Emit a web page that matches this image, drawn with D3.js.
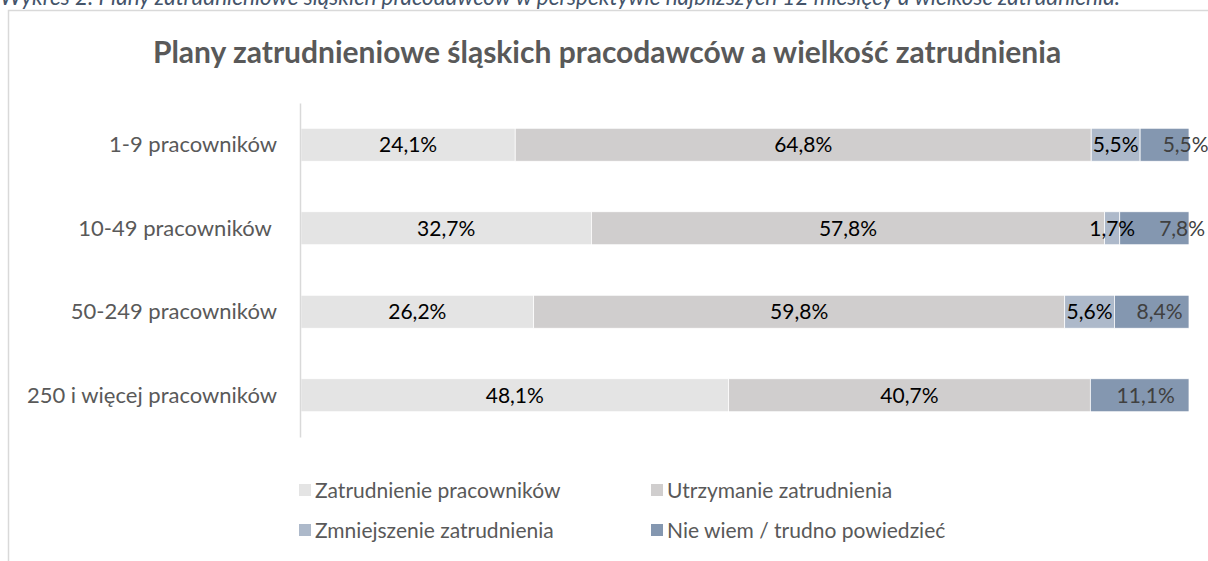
<!DOCTYPE html>
<html><head><meta charset="utf-8">
<script src="https://cdn.jsdelivr.net/npm/d3@7"></script>
<style>html,body{margin:0;padding:0;background:#fff;overflow:hidden}</style>
</head><body>
<svg id="c" width="1208" height="561"></svg>
<script>
const captionText = "Wykres 2. Plany zatrudnieniowe śląskich pracodawców w perspektywie najbliższych 12 miesięcy a wielkość zatrudnienia.";
const titleText = "Plany zatrudnieniowe śląskich pracodawców a wielkość zatrudnienia";
const categories = ["1-9 pracowników", "10-49 pracowników ", "50-249 pracowników", "250 i więcej pracowników"];
const seriesNames = ["Zatrudnienie pracowników", "Utrzymanie zatrudnienia", "Zmniejszenie zatrudnienia", "Nie wiem / trudno powiedzieć"];
const zatrudnienie = [24.1, 32.7, 26.2, 48.1];
const utrzymanie   = [64.8, 57.8, 59.8, 40.7];
const zmniejszenie = [5.5, 1.7, 5.6, 0];
const nieWiem      = [5.5, 7.8, 8.4, 11.1];
const colors = ["#e4e4e4", "#d0cece", "#adb9ca", "#8497b0"];
const labelColors = ["#000000", "#000000", "#000000", "#404040"];

const series = [zatrudnienie, utrzymanie, zmniejszenie, nieWiem];
const rows = categories.map((c, i) => {
  const o = {cat: c};
  seriesNames.forEach((s, k) => o[s] = series[k][i]);
  o.total = d3.sum(series, a => a[i]);
  return o;
});
const stacked = d3.stack().keys(seriesNames)
  .value((d, key) => d[key] / d.total * 100)(rows);

const svg = d3.select("#c");
const font = "Lato, 'Open Sans', sans-serif";

// frame
svg.append("path").attr("d", "M8.5,561 V10.5 H1208")
  .attr("fill", "none").attr("stroke", "#d9d9d9").attr("stroke-width", 1.5);

// caption (partly above the top edge, as in the reference)
svg.append("text").attr("x", 0).attr("y", 5)
  .attr("font-family", font).attr("font-style", "italic").attr("font-size", 22.5)
  .attr("fill", "#44546a").text(captionText);

// title
svg.append("text").attr("x", 607).attr("y", 63).attr("text-anchor", "middle")
  .attr("font-family", font).attr("font-weight", "bold").attr("font-size", 30)
  .attr("fill", "#595959").text(titleText);

const x = d3.scaleLinear().domain([0, 100]).range([301, 1189]);
const y = d3.scaleBand().domain(categories).range([103, 437]).paddingInner(0.605).paddingOuter(0.3025);

const g = svg.append("g");
stacked.forEach((layer, k) => {
  g.selectAll(null).data(layer).enter().append("rect")
    .attr("x", d => x(d[0])).attr("width", d => x(d[1]) - x(d[0]))
    .attr("y", d => y(d.data.cat)).attr("height", y.bandwidth())
    .attr("fill", colors[k]).attr("stroke", "#fff").attr("stroke-width", 0.75);
});

// data labels, with a simple collision rule for the last series
const prevEnd = {};
stacked.forEach((layer, k) => {
  layer.forEach(d => {
    const v = d.data[seriesNames[k]];
    if (!(v > 0)) return;
    const t = g.append("text")
      .attr("y", y(d.data.cat) + y.bandwidth() / 2 + 7.5)
      .attr("text-anchor", "middle")
      .attr("font-family", font).attr("font-size", 21)
      .attr("fill", labelColors[k])
      .text(d3.format(".1f")(v).replace(".", ",") + "%");
    const w = t.node().getComputedTextLength();
    let cx = (x(d[0]) + x(d[1])) / 2;
    if (k === seriesNames.length - 1) {
      cx += 6;
      const pe = prevEnd[d.data.cat];
      if (pe !== undefined) cx = Math.max(cx, pe + 24 + w / 2);
    }
    t.attr("x", cx);
    prevEnd[d.data.cat] = cx + w / 2;
  });
});

// axis
const yAxis = d3.axisLeft(y).tickSize(0).tickPadding(23);
const ax = svg.append("g").attr("transform", "translate(300,0)").call(yAxis);
ax.select(".domain").attr("stroke", "#d9d9d9").attr("stroke-width", 1.5);
ax.selectAll("text").attr("font-family", font).attr("font-size", 22)
  .attr("fill", "#595959").attr("dy", "0.35em").style("white-space", "pre");

// legend
const legendPos = [[299, 490], [651, 490], [299, 530], [651, 530]];
seriesNames.forEach((s, k) => {
  const [lx, ly] = legendPos[k];
  svg.append("rect").attr("x", lx).attr("y", ly - 6).attr("width", 12).attr("height", 12).attr("fill", colors[k]);
  svg.append("text").attr("x", lx + 16).attr("y", ly + 7.5)
    .attr("font-family", font).attr("font-size", 21).attr("fill", "#595959").text(s);
});
</script>
</body></html>
